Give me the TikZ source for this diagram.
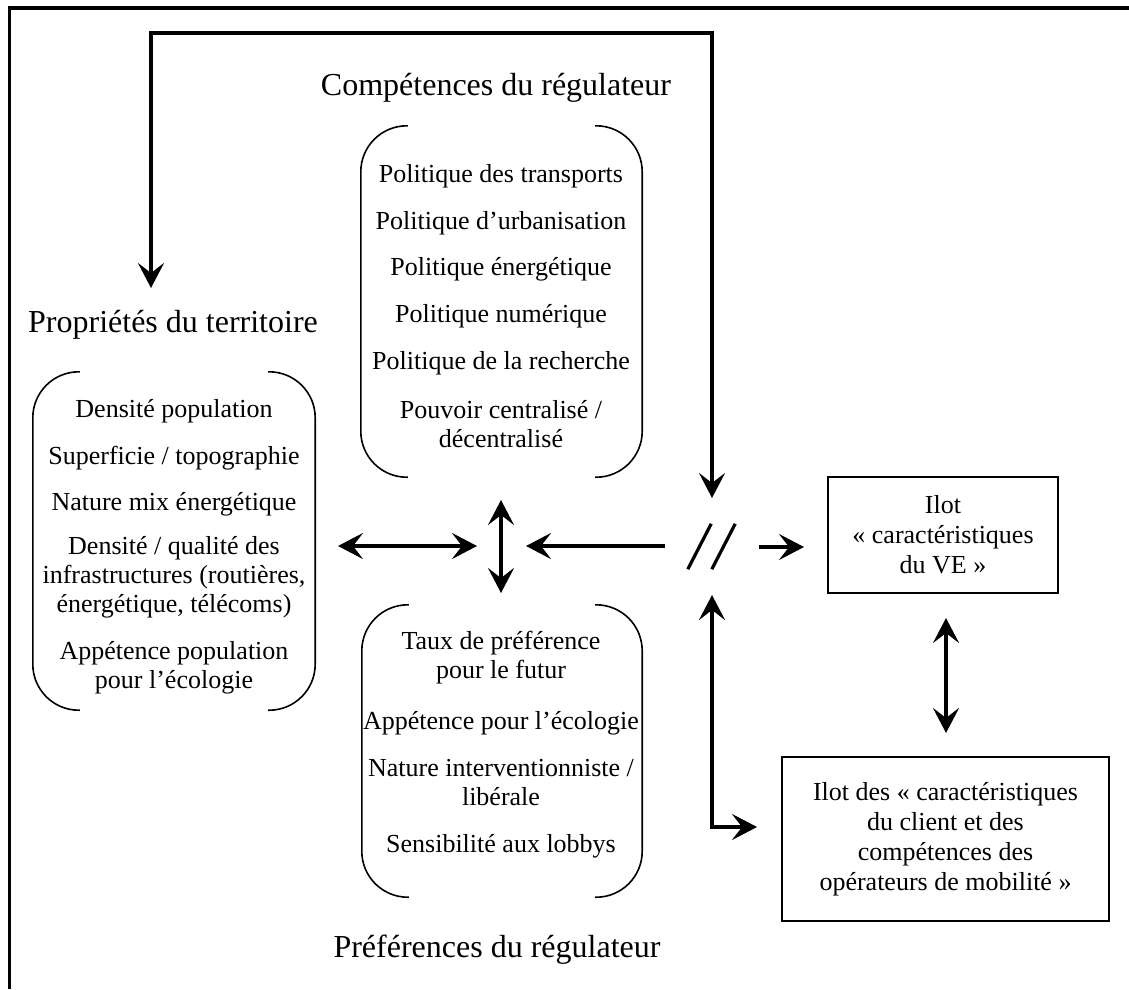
\documentclass[tikz,border=0pt]{standalone}
\usepackage{fontspec}
\setmainfont{Liberation Serif}
\usetikzlibrary{arrows.meta}
\begin{document}
\begin{tikzpicture}[x=1pt,y=-1pt,
  >={Stealth[length=25pt,width=26pt,inset=10pt]},
  arr/.style={line width=3.2pt},
  frame/.style={line width=3.5pt},
  brace/.style={line width=1.6pt, rounded corners=46pt},
  bracezone/.style={inner sep=0pt, draw=none},
  item/.style={align=center, inner sep=0pt, font=\fontsize{26pt}{29pt}\selectfont},
  title/.style={inner sep=0pt, font=\fontsize{32pt}{38pt}\selectfont},
  ilot/.style={draw, line width=1.6pt, align=center, inner sep=0pt, font=\fontsize{26pt}{30pt}\selectfont},
  slash/.style={line width=3.2pt}
]
\useasboundingbox (0,0) rectangle (1129,989);
% outer frame (cut at right and bottom)
\draw[frame] (9.5,989) -- (9.5,8) -- (1129,8);

% titles
\node[title] (tcomp) at (496,88) {Compétences du régulateur};
\node[title] (tterr) at (173,325) {Propriétés du territoire};
\node[title] (tpref) at (497,950) {Préférences du régulateur};

% brace zones
\node[bracezone, minimum width=281pt, minimum height=351pt] (comp) at (501.5,301.5) {};
\node[bracezone, minimum width=282pt, minimum height=338pt] (terr) at (174,541) {};
\node[bracezone, minimum width=280pt, minimum height=292pt] (pref) at (502,751) {};
\foreach \b in {comp,terr,pref}{
  \draw[brace] ([xshift=47pt]\b.north west) -- (\b.north west) -- (\b.south west) -- ([xshift=47pt]\b.south west);
  \draw[brace] ([xshift=-47pt]\b.north east) -- (\b.north east) -- (\b.south east) -- ([xshift=-47pt]\b.south east);
}

% items: compétences
\node[item] (c1) at (501,176) {Politique des transports};
\node[item] (c2) at (501,223) {Politique d’urbanisation};
\node[item] (c3) at (501,269) {Politique énergétique};
\node[item] (c4) at (501,316) {Politique numérique};
\node[item] (c5) at (501,363) {Politique de la recherche};
\node[item] (c6) at (501,424) {Pouvoir centralisé /\\décentralisé};

% items: territoire
\node[item] (t1) at (174,411) {Densité population};
\node[item] (t2) at (174,458) {Superficie / topographie};
\node[item] (t3) at (174,504) {Nature mix énergétique};
\node[item] (t4) at (174,577) {Densité / qualité des\\infrastructures (routières,\\énergétique, télécoms)};
\node[item] (t5) at (174,668) {Appétence population\\pour l’écologie};

% items: préférences
\node[item] (p1) at (501,658) {Taux de préférence\\pour le futur};
\node[item] (p2) at (501,723) {Appétence pour l’écologie};
\node[item] (p3) at (501,783) {Nature interventionniste /\\libérale};
\node[item] (p4) at (501,846) {Sensibilité aux lobbys};

% ilots
\node[ilot, minimum width=230pt, minimum height=116pt] (ve) at (943,535) {Ilot\\«~caractéristiques\\du VE~»};
\node[ilot, minimum width=327pt, minimum height=164pt] (client) at (945.5,839) {Ilot des «~caractéristiques\\du client et des\\compétences des\\opérateurs de mobilité~»};

% break symbol //
\node[inner sep=0pt, minimum width=47pt, minimum height=45pt] (brk) at (711.5,546.5) {};
\draw[slash] (brk.south west) -- ([xshift=-24pt]brk.north east);
\draw[slash] ([xshift=24pt]brk.south west) -- (brk.north east);

% connector coordinates
\coordinate (fbL) at (151,288);
\coordinate (ftop) at (430,33);
\coordinate (fbR) at (712,498);
\coordinate (h1) at (338,546);
\coordinate (h2) at (477,546);
\coordinate (v1) at (501,500);
\coordinate (v2) at (501,593);
\coordinate (l1) at (665,546);
\coordinate (l2) at (526,546);
\coordinate (r1) at (759,547);
\coordinate (r2) at (804,547);
\coordinate (u1) at (712,595);
\coordinate (u2) at (757,827);
\coordinate (d1) at (946,618);
\coordinate (d2) at (946,733);

% connectors
\draw[arr,<->] (fbL) |- (ftop) -| (fbR);
\draw[arr,<->] (h1) -- (h2);
\draw[arr,<->] (v1) -- (v2);
\draw[arr,->] (l1) -- (l2);
\draw[arr,->] (r1) -- (r2);
\draw[arr,<->] (u1) |- (u2);
\draw[arr,<->] (d1) -- (d2);
\end{tikzpicture}
\end{document}
